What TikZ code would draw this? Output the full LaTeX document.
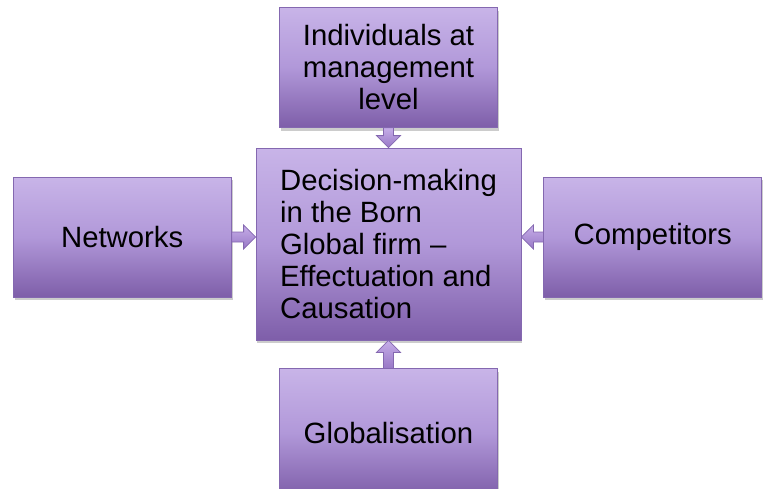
\documentclass[tikz,border=0pt]{standalone}
\usepackage{fontspec}
\setmainfont{Liberation Sans}
\usetikzlibrary{positioning,calc,shadows}

\definecolor{boxtop}{HTML}{C8B4E8}
\definecolor{boxmid}{HTML}{B198D9}
\definecolor{boxbot}{HTML}{7E5EA9}
\definecolor{boxline}{HTML}{8468B0}
\definecolor{arrtop}{HTML}{C6AEE8}
\definecolor{arrbot}{HTML}{9878C6}

\tikzset{
  box/.style={rectangle, draw=boxline, line width=0.6pt,
    top color=boxtop, bottom color=boxbot, middle color=boxmid,
    drop shadow={opacity=0.4, shadow xshift=1pt, shadow yshift=-2.5pt},
    font=\fontsize{22}{24}\selectfont, inner sep=0pt,
    minimum width=163.5pt, minimum height=90pt},
  blockarrow/.style={draw=boxline, line width=0.6pt,
    top color=arrtop, bottom color=arrbot,
    to path={
      ($(\tikztostart)!3.75pt!90:(\tikztotarget)$)
      -- ($(\tikztotarget)!9pt!(\tikztostart)!3.75pt!90:(\tikztotarget)$)
      -- ($(\tikztotarget)!9pt!(\tikztostart)!9pt!90:(\tikztotarget)$)
      -- (\tikztotarget)
      -- ($(\tikztotarget)!9pt!(\tikztostart)!9pt!-90:(\tikztotarget)$)
      -- ($(\tikztotarget)!9pt!(\tikztostart)!3.75pt!-90:(\tikztotarget)$)
      -- ($(\tikztostart)!3.75pt!-90:(\tikztotarget)$)
      -- cycle}}
}

\begin{document}
\begin{tikzpicture}[x=0.75pt, y=-0.75pt]
  \useasboundingbox (0,0) rectangle (768,489);
  \clip (0,0) rectangle (768,489);

  \node[box, align=left, minimum width=198.75pt, minimum height=144pt] (ctr) at (388.5,244)
    {Decision-making\\in the Born\\Global firm --\\Effectuation and\\Causation};
  \node[box, align=center, above=15pt of ctr] (mgmt) {Individuals at\\management\\level};
  \node[box, left=18pt of ctr, yshift=5.25pt] (net) {Networks};
  \node[box, right=16.5pt of ctr, yshift=5.25pt] (comp) {Competitors};
  \node[box, below=21pt of ctr, minimum height=96pt, anchor=north] (glob)
    {\raisebox{-6pt}{Globalisation}};

  \path[blockarrow] (mgmt.south) to (ctr.north);
  \path[blockarrow] (net.east) to (net.east -| ctr.west);
  \path[blockarrow] (comp.west) to (comp.west -| ctr.east);
  \path[blockarrow] (glob.north) to (ctr.south);
\end{tikzpicture}
\end{document}
